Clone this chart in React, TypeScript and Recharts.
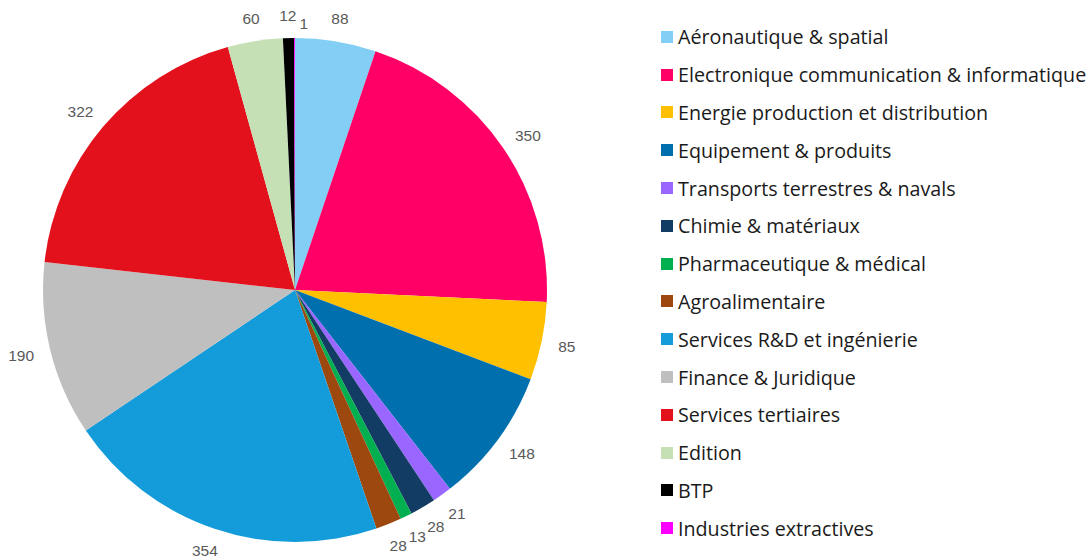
import React from 'react';
import { PieChart, Pie, Cell, Legend } from 'recharts';

if (typeof document !== 'undefined') {
  document.body.style.margin = '0';
}

const sectors = [
  'Aéronautique & spatial',
  'Electronique communication & informatique',
  'Energie production et distribution',
  'Equipement & produits',
  'Transports terrestres & navals',
  'Chimie & matériaux',
  'Pharmaceutique & médical',
  'Agroalimentaire',
  'Services R&D et ingénierie',
  'Finance & Juridique',
  'Services tertiaires',
  'Edition',
  'BTP',
  'Industries extractives',
];

const counts = [88, 350, 85, 148, 21, 28, 13, 28, 354, 190, 322, 60, 12, 1];

const colors = [
  '#83CEF4',
  '#FF0066',
  '#FFC000',
  '#006FAE',
  '#9966FF',
  '#133C65',
  '#00B050',
  '#9C480E',
  '#149BDA',
  '#BFBFBF',
  '#E3111B',
  '#C5E0B4',
  '#000000',
  '#FF00FF',
];

const data = sectors.map((name, i) => ({ name, value: counts[i] }));

const RAD = Math.PI / 180;
const CX = 295;
const CY = 290;
const R = 252;
const GAP = 17;
const DIGIT_W = 8.6;
const TEXT_H = 12;

// mimics Excel's "outside end" placement: box sits just beyond the rim,
// and a label that would collide with the previous one is pushed aside
function layoutLabels() {
  const total = counts.reduce((a, b) => a + b, 0);
  let acc = 0;
  const out: { x: number; y: number; w: number }[] = [];
  counts.forEach((v, i) => {
    const mid = ((acc + v / 2) / total) * 360; // clockwise from top
    acc += v;
    const ux = Math.sin(mid * RAD);
    const uy = -Math.cos(mid * RAD);
    const w = String(v).length * DIGIT_W;
    let x = CX + (R + GAP) * ux + (w / 2) * ux;
    let y = CY + (R + GAP) * uy + (TEXT_H / 2) * uy;
    const prev = out[i - 1];
    if (prev && Math.abs(prev.x - x) < (prev.w + w) / 2 && Math.abs(prev.y - y) < TEXT_H) {
      x = prev.x + (prev.w + w) / 2 + 3;
      y = prev.y + 8;
    }
    out.push({ x, y, w });
  });
  return out;
}

const labelPos = layoutLabels();

function renderLabel(props: any) {
  const { index, value } = props;
  const p = labelPos[index];
  return (
    <text
      x={p.x}
      y={p.y}
      fill="#595959"
      fontSize={15.5}
      fontFamily="Liberation Sans, Arial, sans-serif"
      textAnchor="middle"
      dominantBaseline="central"
    >
      {value}
    </text>
  );
}

function LegendBox() {
  return (
    <div style={{ fontFamily: 'Open Sans, sans-serif', fontSize: 19.7, color: '#1a1a1a' }}>
      {sectors.map((s, i) => (
        <div key={s} style={{ display: 'flex', alignItems: 'center', height: 37.8 }}>
          <span
            style={{
              display: 'inline-block',
              width: 12,
              height: 12,
              background: colors[i],
              marginRight: 5,
            }}
          />
          <span style={{ whiteSpace: 'nowrap' }}>{s}</span>
        </div>
      ))}
    </div>
  );
}

export default function App() {
  return (
    <div style={{ width: 1090, height: 558, background: '#fff' }}>
      <PieChart width={1090} height={558} margin={{ top: 0, right: 0, bottom: 0, left: 0 }}>
        <Pie
          data={data}
          dataKey="value"
          nameKey="name"
          cx={CX}
          cy={CY}
          outerRadius={R}
          startAngle={90}
          endAngle={-270}
          stroke="none"
          label={renderLabel}
          labelLine={false}
          isAnimationActive={false}
        >
          {data.map((d, i) => (
            <Cell key={d.name} fill={colors[i]} />
          ))}
        </Pie>
        <Legend
          content={() => <LegendBox />}
          wrapperStyle={{ left: 661, top: 18, width: 429 }}
        />
      </PieChart>
    </div>
  );
}
